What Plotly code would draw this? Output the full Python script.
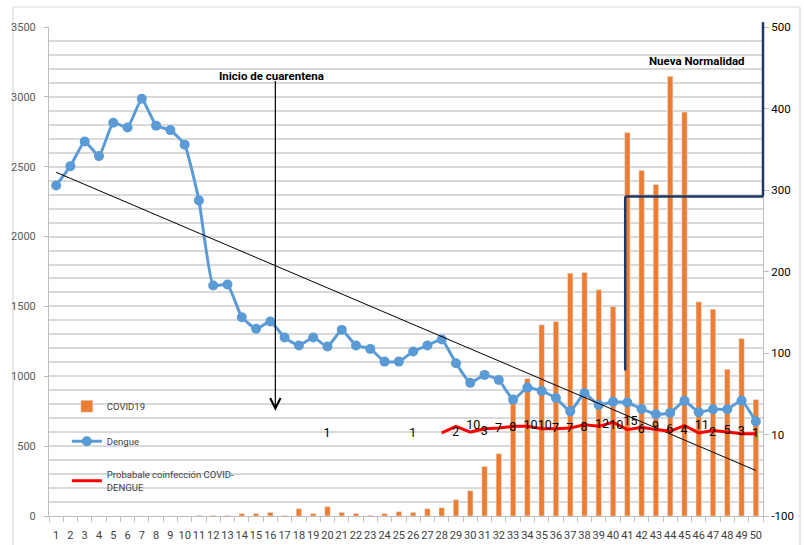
import numpy as np
import plotly.graph_objects as go

weeks = list(range(1, 51))
week_labels = [str(w) for w in weeks]

covid19 = [0, 0, 0, 0, 0, 0, 0, 0, 0, 0,
           5, 5, 5, 18, 18, 26, 5, 52, 18, 67,
           26, 18, 5, 18, 31, 26, 52, 59, 117, 181,
           355, 446, 830, 985, 1368, 1392, 1738, 1743, 1619, 1499,
           2744, 2473, 2373, 3147, 2891, 1533, 1480, 1050, 1270, 833]

dengue = [2366, 2504, 2681, 2576, 2815, 2781, 2987, 2794, 2762, 2658,
          2259, 1650, 1657, 1423, 1340, 1392, 1277, 1220, 1277, 1213,
          1332, 1220, 1196, 1105, 1105, 1177, 1220, 1263, 1093, 953,
          1010, 974, 833, 919, 895, 845, 749, 878, 795, 817,
          812, 766, 728, 738, 824, 742, 764, 764, 826, 676]

coinf = [None] * 18 + [1] + [None] * 5 + [1] + [None, None] + \
        [2, 10, 3, 7, 8, 10, 10, 7, 7, 8, 12, 10, 15, 6, 9, 6, 4, 11, 2, 5, 3, 1, 1]
coinf_labels = ["" if v is None else str(v) for v in coinf]
coinf_labels[-1] = ""

right_tickvals = [-100, 0, 100, 200, 300, 400, 500]
right_ticktext = ["-100", "10", "100", "200", "300", "400", "500"]

# linear trend of dengue
slope, intercept = np.polyfit(weeks, dengue, 1)
trend_x = [weeks[0], weeks[-1]]
trend_y = [slope * x + intercept for x in trend_x]

FONT = "Roboto, Liberation Sans, sans-serif"
GRID = "#D9D9D9"
AXIS = "#BFBFBF"

fig = go.Figure()
fig.add_trace(go.Bar(x=weeks, y=covid19, name="COVID19", marker_color="#ED7D31",
                     width=0.38, legendgroup="a", yaxis="y"))
fig.add_trace(go.Scatter(x=weeks, y=dengue, name="Dengue", mode="lines+markers",
                         line=dict(color="#5B9BD5", width=3, shape="spline", smoothing=0.4),
                         marker=dict(size=10, color="#5B9BD5"), legendgroup="b", yaxis="y"))
fig.add_trace(go.Scatter(x=weeks, y=coinf, name="Probabale coinfección COVID-<br>DENGUE",
                         mode="lines+markers+text", text=coinf_labels, textposition="middle right",
                         textfont=dict(family=FONT, size=12.5, color="#000000"),
                         marker=dict(size=15, color="rgba(0,0,0,0)", line=dict(width=0)),
                         line=dict(color="#FF0000", width=3), connectgaps=False,
                         legendgroup="c", yaxis="y2"))
fig.add_trace(go.Scatter(x=trend_x, y=trend_y, mode="lines", line=dict(color="#000000", width=1),
                         showlegend=False, hoverinfo="skip", yaxis="y"))

nn_x = 40.85
nn_level = 2287
nn_bottom = 1042

shapes = [
    dict(type="line", xref="x", yref="y", x0=nn_x, x1=nn_x, y0=nn_bottom, y1=nn_level,
         line=dict(color="#1F3864", width=2.5)),
    dict(type="line", xref="x", yref="y", x0=nn_x, x1=50.5, y0=nn_level, y1=nn_level,
         line=dict(color="#1F3864", width=2.5)),
    dict(type="line", xref="paper", yref="paper", x0=1, x1=1, y0=nn_level / 3500, y1=1.01,
         line=dict(color="#1F3864", width=2.5)),
    dict(type="rect", xref="paper", yref="paper", x0=-0.0504, x1=1.0518, y0=-0.07, y1=1.0409,
         line=dict(color="#D9D9D9", width=1.2), fillcolor="rgba(0,0,0,0)", layer="below"),
]

annotations = [
    dict(x=16.35, y=754, ax=16.35, ay=3125, xref="x", yref="y", axref="x", ayref="y",
         text="", showarrow=True, arrowhead=5, arrowsize=1.7, arrowwidth=1.2, arrowcolor="#000000"),
    dict(x=16.1, y=3150, xref="x", yref="y", text="<b>Inicio de cuarentena</b>", showarrow=False,
         font=dict(family=FONT, size=11.5, color="#000000")),
    dict(x=45.9, y=3255, xref="x", yref="y", text="<b>Nueva Normalidad</b>", showarrow=False,
         font=dict(family=FONT, size=11.5, color="#000000")),
]

fig.update_layout(
    width=804, height=545,
    margin=dict(l=49, r=41, t=27, b=29, autoexpand=False),
    paper_bgcolor="white", plot_bgcolor="white",
    font=dict(family=FONT, size=11, color="#595959"),
    showlegend=True,
    legend=dict(x=0.025, y=0.254, xanchor="left", yanchor="top", bgcolor="rgba(0,0,0,0)",
                font=dict(family=FONT, size=9.5, color="#404040"),
                traceorder="grouped", tracegroupgap=16, itemwidth=30),
    xaxis=dict(range=[0.5, 50.5], tickmode="array", tickvals=weeks, ticktext=week_labels,
               tickangle=0, automargin=False,
               showgrid=False, showline=True, linecolor=AXIS, linewidth=1, ticks="",
               ticklabelstandoff=9, zeroline=False,
               tickfont=dict(family=FONT, size=11, color="#404040"),
               minor=dict(ticks="outside", tick0=0.5, dtick=1, ticklen=5, tickcolor=AXIS, showgrid=False)),
    yaxis=dict(range=[0, 3500], dtick=500, showgrid=True, gridcolor=GRID, gridwidth=1.5,
               showline=True, linecolor=AXIS, ticks="outside", ticklen=4, tickcolor=AXIS,
               zeroline=False, ticklabelstandoff=6, automargin=False,
               tickfont=dict(family=FONT, size=11, color="#595959"),
               minor=dict(dtick=100, showgrid=True, gridcolor=GRID, gridwidth=1.5)),
    yaxis2=dict(range=[-100, 500], overlaying="y", side="right", tickmode="array",
                tickvals=right_tickvals, ticktext=right_ticktext, showgrid=False,
                showline=True, linecolor=AXIS, ticks="outside", ticklen=5, tickcolor=AXIS,
                zeroline=False, automargin=False,
                tickfont=dict(family=FONT, size=11.5, color="#000000")),
    shapes=shapes,
    annotations=annotations,
)

fig.write_html("out.html", config={"displayModeBar": False},
               post_script="document.body.style.margin='0px';")
